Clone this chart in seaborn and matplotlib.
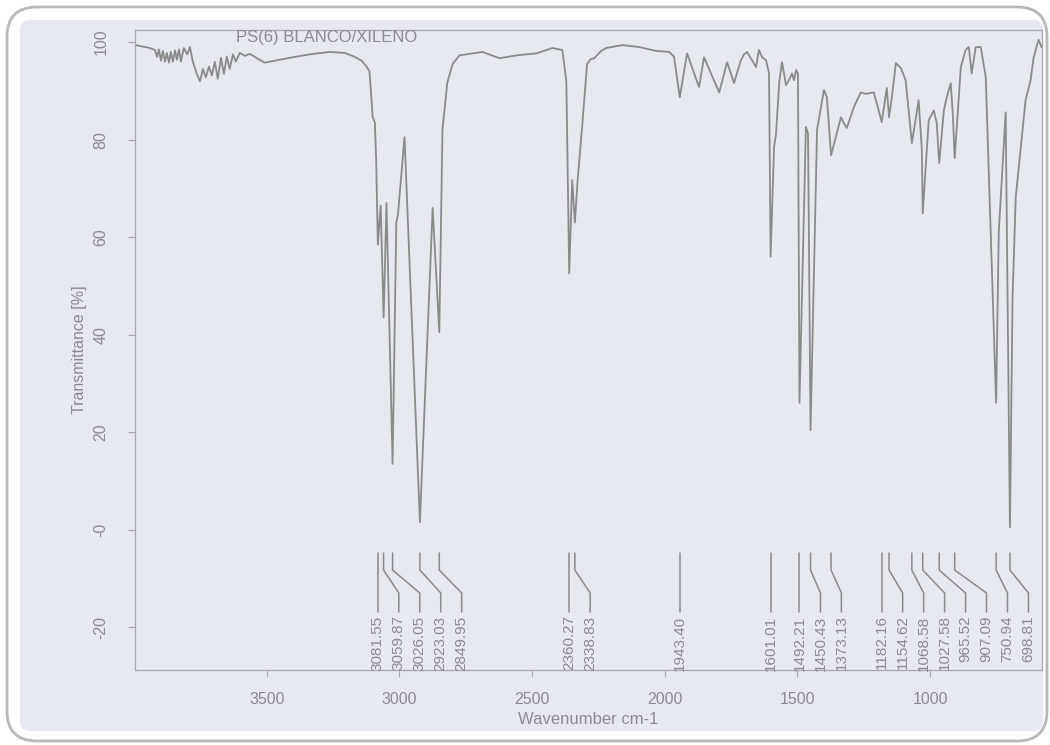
import matplotlib
matplotlib.use("Agg")
import numpy as np
import pandas as pd
import matplotlib.pyplot as plt
from matplotlib.patches import FancyBboxPatch
import seaborn as sns

# ---------------- data ----------------
wavenumber = [
    3995, 3960, 3941, 3922, 3914, 3907, 3899, 3892, 3884, 3877, 3869, 3862,
    3854, 3846, 3839, 3831, 3824, 3813, 3800, 3790, 3779, 3764, 3752, 3741,
    3730, 3718, 3707, 3696, 3685, 3673, 3662, 3651, 3640, 3628, 3617, 3602,
    3583, 3564, 3534, 3508, 3470, 3414, 3338, 3263, 3207, 3169, 3143, 3124,
    3113, 3101, 3093, 3088, 3081.55, 3071, 3059.87, 3049, 3026.05, 3012, 3006,
    2981, 2923.03, 2875, 2849.95, 2838, 2820, 2800, 2774, 2687, 2623, 2559,
    2484, 2424, 2386, 2371, 2360.27, 2349, 2338.83, 2328, 2311, 2293, 2280,
    2266, 2240, 2221, 2160, 2096, 2032, 1983, 1965, 1943.40, 1916, 1871, 1852,
    1795, 1765, 1739, 1713, 1701, 1690, 1671, 1656, 1645, 1633, 1618, 1607,
    1601.01, 1588, 1581, 1568, 1558, 1543, 1532, 1520, 1513, 1505, 1498,
    1492.21, 1468, 1460, 1450.43, 1426, 1400, 1389, 1373.13, 1336, 1325, 1314,
    1287, 1261, 1242, 1212, 1201, 1182.16, 1163, 1154.62, 1144, 1129, 1110,
    1092, 1068.58, 1043, 1031, 1027.58, 1005, 986, 975, 965.52, 948, 937, 922,
    914, 907.09, 884, 866, 854, 843, 828, 809, 790, 750.94, 741, 715, 698.81,
    689, 677, 640, 621, 610, 602, 591, 580,
]
transmittance = [
    99.4, 99.0, 98.8, 98.4, 97.0, 98.5, 96.2, 98.2, 96.0, 97.8, 95.8, 98.0,
    96.0, 98.3, 96.4, 98.5, 96.0, 98.8, 97.5, 99.0, 96.0, 93.5, 92.0, 94.5,
    92.8, 95.0, 93.2, 96.0, 92.5, 96.8, 93.5, 97.0, 94.5, 97.5, 96.0, 97.8,
    97.2, 97.6, 96.6, 95.8, 96.2, 96.8, 97.5, 98.0, 97.8, 97.0, 96.2, 95.0,
    94.0, 84.6, 83.6, 76.0, 58.5, 66.5, 43.5, 67.0, 13.5, 63.0, 64.5,
    80.5, 1.5, 66.0, 40.5, 82.0, 91.6, 95.5, 97.3, 98.0, 96.7, 97.3,
    97.7, 98.8, 98.4, 92.0, 52.6, 71.7, 63.0, 72.0, 83.0, 95.5, 96.5,
    96.7, 98.2, 98.8, 99.4, 99.0, 98.2, 98.0, 97.0, 88.7, 97.7, 90.8, 96.9,
    89.7, 95.9, 91.6, 96.3, 97.5, 98.0, 96.3, 94.9, 98.4, 96.9, 96.3, 93.6,
    56.0, 78.5, 81.0, 92.0, 95.9, 91.2, 92.2, 93.6, 92.2, 94.3, 93.6,
    26.0, 82.6, 81.3, 20.4, 82.0, 90.2, 88.7, 76.8, 84.6, 83.4, 82.4,
    86.7, 89.7, 89.4, 89.7, 87.5, 83.6, 90.6, 84.6, 88.7, 95.7, 94.7,
    92.2, 79.3, 88.1, 78.0, 64.9, 84.0, 86.0, 83.5, 75.2, 86.0, 88.7, 91.6,
    85.0, 76.2, 94.9, 98.4, 99.0, 93.6, 99.0, 99.0, 92.8, 26.0, 61.0, 85.6, 0.5,
    47.7, 68.2, 88.1, 92.2, 96.7, 98.4, 100.5, 99.0,
]
peak_labels = [
    "3081.55", "3059.87", "3026.05", "2923.03", "2849.95", "2360.27",
    "2338.83", "1943.40", "1601.01", "1492.21", "1450.43", "1373.13",
    "1182.16", "1154.62", "1068.58", "1027.58", "965.52", "907.09",
    "750.94", "698.81",
]
x_ticks = [3500, 3000, 2500, 2000, 1500, 1000]
y_ticks = [-20, 0, 20, 40, 60, 80, 100]
y_tick_labels = ["-20", "-0", "20", "40", "60", "80", "100"]
title_text = "PS(6) BLANCO/XILENO"
x_label = "Wavenumber cm-1"
y_label = "Transmittance [%]"

# ---------------- styling ----------------
sns.set_theme(style="ticks")
plt.rcParams["font.family"] = ["Liberation Sans", "DejaVu Sans"]

PAPER = "#e6e9f0"
INK = "#8a8b90"
LINE = "#8a8a8a"
SPINE = "#a6a7ab"

fig = plt.figure(figsize=(10.5, 7.45), dpi=100)
fig.patch.set_facecolor("white")

# background "paper" with rounded frame (pixel coordinates)
bg = fig.add_axes([0, 0, 1, 1], zorder=0)
bg.set_xlim(0, 1050)
bg.set_ylim(745, 0)
bg.axis("off")
bg.add_patch(FancyBboxPatch((7, 7), 1040, 734,
                            boxstyle="round,pad=0,rounding_size=30",
                            facecolor="white", edgecolor="#b8b8b8", lw=2))
bg.add_patch(FancyBboxPatch((20, 20), 1023, 711,
                            boxstyle="round,pad=0,rounding_size=10",
                            facecolor=PAPER, edgecolor="none"))

ax = fig.add_axes([135 / 1050, 75 / 745, 907 / 1050, 640 / 745], zorder=1)
ax.set_facecolor("none")

df = pd.DataFrame({"wavenumber": wavenumber, "transmittance": transmittance})
sns.lineplot(data=df, x="wavenumber", y="transmittance", sort=False,
             estimator=None, color=LINE, lw=1.3, ax=ax)

ax.set_xlim(3997, 578)
ax.set_ylim(-28.8, 102.5)

# peak marker lines and labels
peak_positions = [float(s) for s in peak_labels]
spacing = 79.0
label_x = []
prev = None
for p in peak_positions:
    lx = p if prev is None else min(p, prev - spacing)
    label_x.append(lx)
    prev = lx
for p, lx, s in zip(peak_positions, label_x, peak_labels):
    ax.plot([p, p, lx, lx], [-4.8, -8.3, -13.0, -16.9], color=LINE, lw=1.1)
    ax.text(lx, -17.6, s, rotation=90, ha="center", va="top",
            fontsize=11, color=INK)

# title inside the plot
ax.text(0.111, 1.0, title_text, transform=ax.transAxes, ha="left", va="top",
        fontsize=12, color=INK)

# axes
ax.set_xticks(x_ticks)
ax.set_yticks(y_ticks, labels=y_tick_labels)
ax.tick_params(axis="both", direction="out", length=5, width=0.8,
               color=SPINE, labelcolor=INK, labelsize=11.5)
ax.tick_params(axis="x", pad=11)
ax.tick_params(axis="y", pad=14)
plt.setp(ax.get_yticklabels(), rotation=90, va="center")
for sp in ax.spines.values():
    sp.set_color(SPINE)
    sp.set_linewidth(0.9)

ax.set_xlabel(x_label, fontsize=12, color=INK)
ax.set_ylabel(y_label, fontsize=11.5, color=INK)
ax.xaxis.set_label_coords(0.5, -0.066)
ax.yaxis.set_label_coords(-0.053, 0.5)

fig.savefig("out.png", dpi=100, facecolor=fig.get_facecolor())
